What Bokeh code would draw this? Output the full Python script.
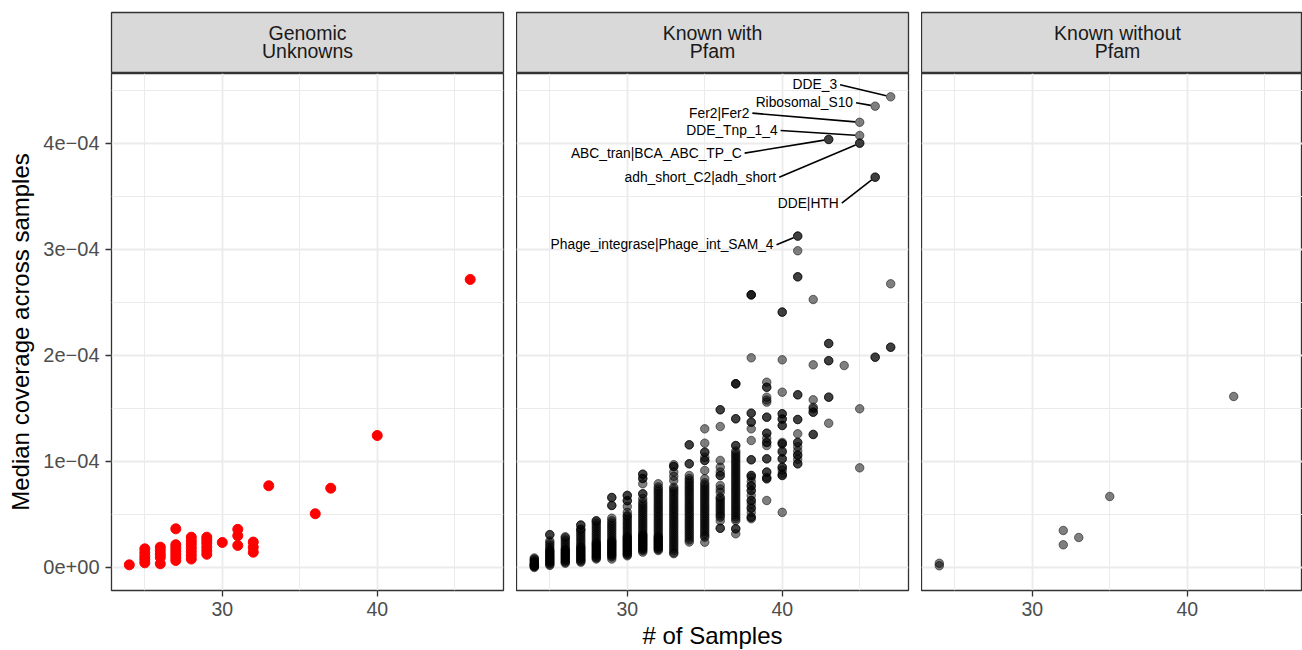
import math
from bokeh.plotting import figure
from bokeh.layouts import gridplot
from bokeh.models import FixedTicker, Grid, Range1d
from bokeh.core.properties import value
from bokeh.embed import file_html
from bokeh.resources import INLINE

FONT = "Liberation Sans"

# ---------------- texts ----------------
facet_titles = [["Genomic", "Unknowns"], ["Known with", "Pfam"], ["Known without", "Pfam"]]
x_axis_title = "# of Samples"
y_axis_title = "Median coverage across samples"
x_major = [30, 40]
x_minor = [25, 35, 45]
y_major = [0, 1, 2, 3, 4]            # coverage in units of 1e-04
y_minor = [0.5, 1.5, 2.5, 3.5, 4.5]
y_tick_labels = ["0e+00", "1e\u221204", "2e\u221204", "3e\u221204", "4e\u221204"]

# ---------------- data (coverage in units of 1e-04) ----------------
# Genomic Unknowns
gu_samples = [24, 25, 26, 27, 28, 29, 30, 31, 32, 33, 36, 37, 40, 46]
gu_cov = [
    [0.025],
    [0.044, 0.075, 0.105, 0.14, 0.176],
    [0.035, 0.095, 0.125, 0.16, 0.192],
    [0.066, 0.095, 0.125, 0.155, 0.185, 0.215, 0.365],
    [0.08, 0.115, 0.15, 0.185, 0.22, 0.25, 0.286],
    [0.125, 0.16, 0.195, 0.23, 0.26, 0.286],
    [0.236],
    [0.208, 0.30, 0.36],
    [0.144, 0.19, 0.24],
    [0.771],
    [0.507],
    [0.748],
    [1.245],
    [2.717],
]

# Known with Pfam, one list per number of samples
kp_24 = [0.00, 0.01, 0.01, 0.02, 0.02, 0.03, 0.03, 0.04, 0.05, 0.06, 0.07, 0.08, 0.09]
kp_25 = [0.02, 0.03, 0.04, 0.05, 0.06, 0.07, 0.08, 0.09, 0.10, 0.11, 0.12, 0.13, 0.14, 0.15,
         0.16, 0.17, 0.19, 0.21, 0.23, 0.25, 0.31, 0.31]
kp_26 = [0.04, 0.05, 0.06, 0.07, 0.08, 0.09, 0.10, 0.11, 0.12, 0.13, 0.14, 0.15, 0.16, 0.17,
         0.18, 0.20, 0.22, 0.24, 0.26, 0.28, 0.29]
kp_27 = [0.05, 0.06, 0.07, 0.08, 0.09, 0.10, 0.11, 0.12, 0.13, 0.14, 0.15, 0.16, 0.17, 0.18,
         0.19, 0.20, 0.22, 0.24, 0.26, 0.28, 0.30, 0.32, 0.34, 0.36, 0.36, 0.40, 0.40]
kp_28 = [0.08, 0.09, 0.10, 0.11, 0.12, 0.13, 0.14, 0.15, 0.16, 0.17, 0.18, 0.19, 0.20, 0.21,
         0.22, 0.23, 0.24, 0.26, 0.28, 0.30, 0.32, 0.34, 0.36, 0.38, 0.40, 0.42, 0.44, 0.44]
kp_29 = [0.08, 0.10, 0.11, 0.12, 0.13, 0.14, 0.15, 0.16, 0.17, 0.18, 0.19, 0.20, 0.21, 0.22,
         0.23, 0.24, 0.25, 0.26, 0.28, 0.30, 0.32, 0.34, 0.36, 0.38, 0.40, 0.42, 0.44, 0.465,
         0.585, 0.585, 0.66, 0.66]
kp_30 = [0.11, 0.12, 0.13, 0.14, 0.15, 0.16, 0.17, 0.18, 0.19, 0.20, 0.21, 0.22, 0.23, 0.24,
         0.25, 0.26, 0.27, 0.28, 0.29, 0.30, 0.32, 0.34, 0.36, 0.38, 0.40, 0.42, 0.44, 0.46,
         0.48, 0.49, 0.52, 0.575, 0.63, 0.63, 0.68, 0.68]
kp_31 = [0.145, 0.16, 0.17, 0.18, 0.19, 0.20, 0.21, 0.22, 0.23, 0.24, 0.25, 0.26, 0.27, 0.28,
         0.29, 0.30, 0.31, 0.32, 0.34, 0.36, 0.38, 0.40, 0.42, 0.44, 0.46, 0.48, 0.50, 0.52,
         0.54, 0.56, 0.58, 0.60, 0.62, 0.65, 0.695, 0.695, 0.79, 0.84, 0.84, 0.88, 0.88]
kp_32 = [0.16, 0.17, 0.18, 0.19, 0.20, 0.21, 0.22, 0.23, 0.24, 0.25, 0.26, 0.27, 0.28, 0.29,
         0.30, 0.32, 0.34, 0.36, 0.38, 0.40, 0.42, 0.44, 0.46, 0.48, 0.50, 0.52, 0.54, 0.56,
         0.58, 0.60, 0.62, 0.64, 0.66, 0.68, 0.70, 0.72, 0.74, 0.76, 0.79]
kp_33 = [0.13, 0.14, 0.16, 0.18, 0.20, 0.22, 0.24, 0.26, 0.28, 0.30, 0.32, 0.34, 0.36, 0.38,
         0.40, 0.42, 0.44, 0.46, 0.48, 0.50, 0.52, 0.54, 0.56, 0.58, 0.60, 0.62, 0.64, 0.66,
         0.68, 0.70, 0.72, 0.74, 0.757, 0.82, 0.86, 0.90, 0.953, 0.953, 0.97]
kp_34 = [0.24, 0.26, 0.28, 0.30, 0.32, 0.34, 0.36, 0.38, 0.40, 0.42, 0.44, 0.46, 0.48, 0.50,
         0.52, 0.54, 0.56, 0.58, 0.60, 0.62, 0.64, 0.66, 0.68, 0.70, 0.72, 0.74, 0.76, 0.78,
         0.80, 0.82, 0.84, 0.868, 0.978, 0.978, 1.157, 1.157]
kp_35 = [0.239, 0.286, 0.30, 0.32, 0.34, 0.36, 0.38, 0.40, 0.42, 0.44, 0.46, 0.48, 0.50, 0.52,
         0.54, 0.56, 0.58, 0.60, 0.62, 0.64, 0.66, 0.68, 0.70, 0.72, 0.74, 0.76, 0.78, 0.80,
         0.837, 0.915, 1.01, 1.01, 1.04, 1.088, 1.088, 1.173, 1.308]
kp_36 = [0.37, 0.37, 0.44, 0.475, 0.49, 0.51, 0.53, 0.55, 0.57, 0.59, 0.61, 0.63, 0.65, 0.663,
         0.71, 0.74, 0.774, 0.868, 0.868, 0.90, 0.946, 1.01, 1.33, 1.488, 1.488]
kp_37 = [0.318, 0.365, 0.365, 0.443, 0.46, 0.48, 0.50, 0.52, 0.54, 0.56, 0.58, 0.60, 0.62,
         0.64, 0.66, 0.68, 0.70, 0.72, 0.74, 0.76, 0.78, 0.80, 0.82, 0.84, 0.86, 0.88, 0.90,
         0.92, 0.94, 0.96, 0.98, 1.00, 1.02, 1.04, 1.06, 1.08, 1.10, 1.15, 1.15, 1.403, 1.403,
         1.733, 1.733, 1.733]
kp_38 = [0.46, 0.475, 0.475, 0.52, 0.56, 0.56, 0.60, 0.632, 0.632, 0.68, 0.726, 0.726, 0.77,
         0.77, 0.81, 0.85, 0.868, 0.868, 1.016, 1.016, 1.198, 1.308, 1.371, 1.371, 1.456, 1.456,
         1.978, 2.572, 2.572, 2.572]
kp_39 = [0.632, 0.837, 0.837, 0.852, 0.90, 0.90, 1.025, 1.025, 1.15, 1.18, 1.18, 1.22, 1.267,
         1.267, 1.418, 1.418, 1.56, 1.58, 1.607, 1.70, 1.70, 1.748]
kp_40 = [0.52, 0.868, 0.868, 0.884, 0.92, 0.946, 0.946, 1.025, 1.025, 1.088, 1.10, 1.167, 1.167,
         1.18, 1.34, 1.34, 1.40, 1.40, 1.45, 1.45, 1.654, 1.959, 2.409, 2.409]
kp_41 = [0.978, 0.978, 1.02, 1.06, 1.06, 1.10, 1.14, 1.18, 1.18, 1.261, 1.396, 1.396, 1.629,
         1.629, 2.742, 2.742, 2.988, 3.126, 3.126]
kp_42 = [1.255, 1.255, 1.465, 1.465, 1.497, 1.512, 1.582, 1.912, 2.528]
kp_43 = [1.361, 1.607, 1.607, 1.951, 1.951, 2.113, 2.113, 4.038, 4.038]
kp_44 = [1.905]
kp_45 = [0.94, 1.497, 4.003, 4.003, 4.075, 4.20]
kp_46 = [1.984, 1.984, 3.682, 3.682, 4.352]
kp_47 = [2.078, 2.078, 2.676, 4.44]
kp_samples = [24, 25, 26, 27, 28, 29, 30, 31, 32, 33, 34, 35, 36, 37, 38, 39, 40, 41, 42, 43,
              44, 45, 46, 47]
kp_cov = [kp_24, kp_25, kp_26, kp_27, kp_28, kp_29, kp_30, kp_31, kp_32, kp_33, kp_34, kp_35,
          kp_36, kp_37, kp_38, kp_39, kp_40, kp_41, kp_42, kp_43, kp_44, kp_45, kp_46, kp_47]

# labelled points (Known with Pfam)
label_text = ["DDE_3", "Ribosomal_S10", "Fer2|Fer2", "DDE_Tnp_1_4", "ABC_tran|BCA_ABC_TP_C",
              "adh_short_C2|adh_short", "DDE|HTH", "Phage_integrase|Phage_int_SAM_4"]
label_samples = [47, 46, 45, 45, 43, 45, 46, 41]
label_cov = [4.44, 4.352, 4.20, 4.075, 4.038, 4.003, 3.682, 3.126]
# where the repelled label text ends (right edge), in data units
label_end_x = [43.54, 44.57, 37.88, 39.70, 37.38, 39.61, 43.65, 39.44]
label_end_y = [4.554, 4.384, 4.286, 4.123, 3.909, 3.682, 3.437, 3.044]

# Known without Pfam
kn_samples = [24, 24, 32, 32, 33, 35, 43]
kn_cov = [0.04, 0.016, 0.349, 0.214, 0.283, 0.67, 1.613]

# ---------------- layout ----------------
X_START, X_END = 22.85, 48.15
Y_START, Y_END = -0.217, 4.66
FRAME_W = [392, 392, 381]
FRAME_H = 517
STRIP_H = 61
BORDER_L = [111, 0, 0]
BORDER_R = [13, 13, 0]
px_per_x = FRAME_W[0] / (X_END - X_START)
px_per_y = FRAME_H / (Y_END - Y_START)
x_ends = [X_END, X_END, X_START + FRAME_W[2] / px_per_x]

GRID_COL = "#EBEBEB"
BORDER_COL = "#333333"


def flatten(samples, covs):
    xs, ys = [], []
    for s, c in zip(samples, covs):
        for v in c:
            xs.append(s)
            ys.append(v)
    return xs, ys


def make_strip(i):
    s = figure(frame_width=FRAME_W[i], frame_height=STRIP_H,
               x_range=Range1d(0, FRAME_W[i]), y_range=Range1d(0, STRIP_H),
               x_axis_type=None, y_axis_type=None, toolbar_location=None,
               output_backend="svg",
               min_border_left=BORDER_L[i], min_border_right=BORDER_R[i],
               min_border_top=12, min_border_bottom=0,
               background_fill_color="#D9D9D9", border_fill_color="white",
               outline_line_color=BORDER_COL, outline_line_width=1.3)
    lines = facet_titles[i]
    cx = FRAME_W[0] / 2.0
    s.text(x=[cx, cx], y=[STRIP_H - 20.5, STRIP_H - 38.8], text=lines,
           text_align="center", text_baseline="middle",
           text_font=value(FONT), text_font_size="19.5px", text_color="#1A1A1A")
    return s


def make_panel(i):
    p = figure(frame_width=FRAME_W[i], frame_height=FRAME_H,
               x_range=Range1d(X_START, x_ends[i]), y_range=Range1d(Y_START, Y_END),
               y_axis_location=("left" if i == 0 else None),
               toolbar_location=None, output_backend="svg",
               min_border_left=BORDER_L[i], min_border_right=BORDER_R[i],
               min_border_top=0, min_border_bottom=0,
               background_fill_color="white", border_fill_color="white",
               outline_line_color=BORDER_COL, outline_line_width=1.3)
    p.center = [r for r in p.center if not isinstance(r, Grid)]
    p.add_layout(Grid(dimension=0, ticker=FixedTicker(ticks=x_major, minor_ticks=x_minor),
                      grid_line_color=GRID_COL, grid_line_width=1.8,
                      minor_grid_line_color=GRID_COL, minor_grid_line_width=1.0), "center")
    p.add_layout(Grid(dimension=1, ticker=FixedTicker(ticks=y_major, minor_ticks=y_minor),
                      grid_line_color=GRID_COL, grid_line_width=1.8,
                      minor_grid_line_color=GRID_COL, minor_grid_line_width=1.0), "center")

    axes = list(p.xaxis) + (list(p.yaxis) if i == 0 else [])
    for ax in axes:
        ax.axis_line_color = None
        ax.major_tick_line_color = BORDER_COL
        ax.major_tick_line_width = 1.3
        ax.major_tick_out = 6
        ax.major_tick_in = 0
        ax.minor_tick_line_color = None
        ax.major_label_text_font = FONT
        ax.major_label_text_font_size = "19.5px"
        ax.major_label_text_color = "#4D4D4D"
        ax.axis_label_text_font = FONT
        ax.axis_label_text_font_size = "24px"
        ax.axis_label_text_font_style = "normal"
        ax.axis_label_text_color = "black"
    xa = p.xaxis[0]
    xa.ticker = FixedTicker(ticks=x_major)
    xa.major_label_standoff = 5
    xa.axis_label_standoff = 3
    xa.axis_label = x_axis_title if i == 1 else " "
    if i == 0:
        ya = p.yaxis[0]
        ya.ticker = FixedTicker(ticks=y_major)
        ya.major_label_overrides = {t: l for t, l in zip(y_major, y_tick_labels)}
        ya.major_label_text_font_size = "20px"
        ya.major_label_standoff = 6
        ya.axis_label_standoff = 6
        ya.axis_label = y_axis_title
    return p


strips = [make_strip(i) for i in range(3)]
panels = [make_panel(i) for i in range(3)]

# panel 1: Genomic Unknowns
gx, gy = flatten(gu_samples, gu_cov)
panels[0].scatter(x=gx, y=gy, size=10, fill_color="red", line_color="red", line_width=1)

# panel 2: Known with Pfam
kx, ky = flatten(kp_samples, kp_cov)
panels[1].scatter(x=kx, y=ky, size=8.5, fill_color="black", fill_alpha=0.5,
                  line_color="black", line_alpha=0.5, line_width=1)

gap_px, pad_px = 3.0, 4.5
sx0, sy0, sx1, sy1 = [], [], [], []
for lx, ly, qx, qy in zip(label_end_x, label_end_y, label_samples, label_cov):
    ax0 = lx + gap_px / px_per_x
    ay0 = ly
    dx = (qx - ax0) * px_per_x
    dy = (qy - ay0) * px_per_y
    d = math.hypot(dx, dy)
    sx0.append(ax0)
    sy0.append(ay0)
    sx1.append(qx - dx / d * pad_px / px_per_x)
    sy1.append(qy - dy / d * pad_px / px_per_y)
panels[1].segment(x0=sx0, y0=sy0, x1=sx1, y1=sy1, line_color="black", line_width=1.6)
panels[1].text(x=label_end_x, y=label_end_y, text=label_text, text_align="right",
               text_baseline="middle", text_font=value(FONT), text_font_size="13.8px",
               text_color="black")

# panel 3: Known without Pfam
panels[2].scatter(x=kn_samples, y=kn_cov, size=8.5, fill_color="black", fill_alpha=0.5,
                  line_color="black", line_alpha=0.5, line_width=1)

grid = gridplot([strips, panels], toolbar_location=None)

open("out.html", "w").write(file_html(grid, INLINE))
